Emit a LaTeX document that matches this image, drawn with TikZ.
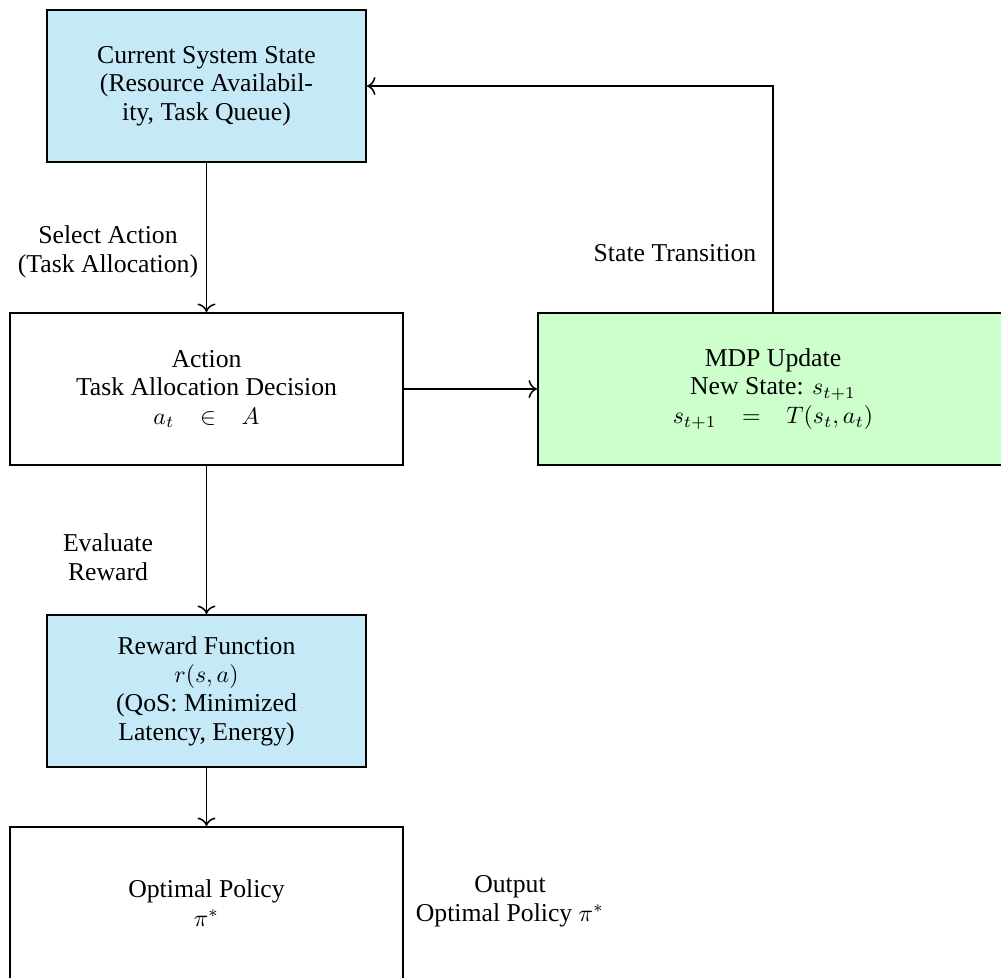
\documentclass[tikz,border=0pt]{standalone}
\usepackage{fontspec}
\setmainfont[Scale=1.08]{Liberation Serif}
\usetikzlibrary{arrows.meta}

% one drawing unit of the flowchart
\newdimen\pxu \pxu=0.42pt

\definecolor{stateblue}{RGB}{198,233,248}
\definecolor{updategreen}{RGB}{204,255,204}

\begin{document}
\begin{tikzpicture}[x=0.42pt,y=-0.42pt,
  box/.style={draw,thick,align=center,inner sep=0pt,minimum height=152\pxu},
  narrowbox/.style={box,minimum width=319\pxu},
  widebox/.style={box,minimum width=393\pxu},
  flow/.style={-{To[length=3.6pt,width=7.6pt]},line width=0.65pt},
  lbl/.style={align=center,inner sep=0pt}]

\useasboundingbox (0,0) rectangle (1001,977);

% process blocks
\node[narrowbox,fill=stateblue] (state) at (206.5,86)
  {Current System State\\(Resource Availabil-\\ity, Task Queue)};
\node[widebox] (action) at (206.5,389)
  {Action\\Task Allocation Decision\\$a_t\quad{\in}\quad A$};
\node[box,fill=updategreen,minimum width=470\pxu] (mdp) at (773,389)
  {MDP Update\\New State: $s_{t+1}$\\$s_{t+1}\quad{=}\quad T(s_t,a_t)$};
\node[narrowbox,fill=stateblue] (reward) at (206.5,691)
  {Reward Function\\$r(s,a)$\\(QoS: Minimized\\Latency, Energy)};
\node[widebox] (policy) at (206.5,903)
  {Optimal Policy\\$\pi^*$};

% connectors
\draw[flow] (state.south) -- (action.north);
\draw[flow] (action.east) -- (mdp.west);
\draw[flow] (mdp.north) |- (state.east);
\draw[flow] (action.south) -- (reward.north);
\draw[flow] (reward.south) -- (policy.north);

% connector labels
\node[lbl] (lselect) at (108,252) {Select Action\\(Task Allocation)};
\node[lbl] (ltrans) at (675,253) {State Transition};
\node[lbl] (leval) at (108,557) {Evaluate\\Reward};
\node[lbl] (lout) at (510,901) {Output\\Optimal Policy $\pi^*$};

\end{tikzpicture}
\end{document}
